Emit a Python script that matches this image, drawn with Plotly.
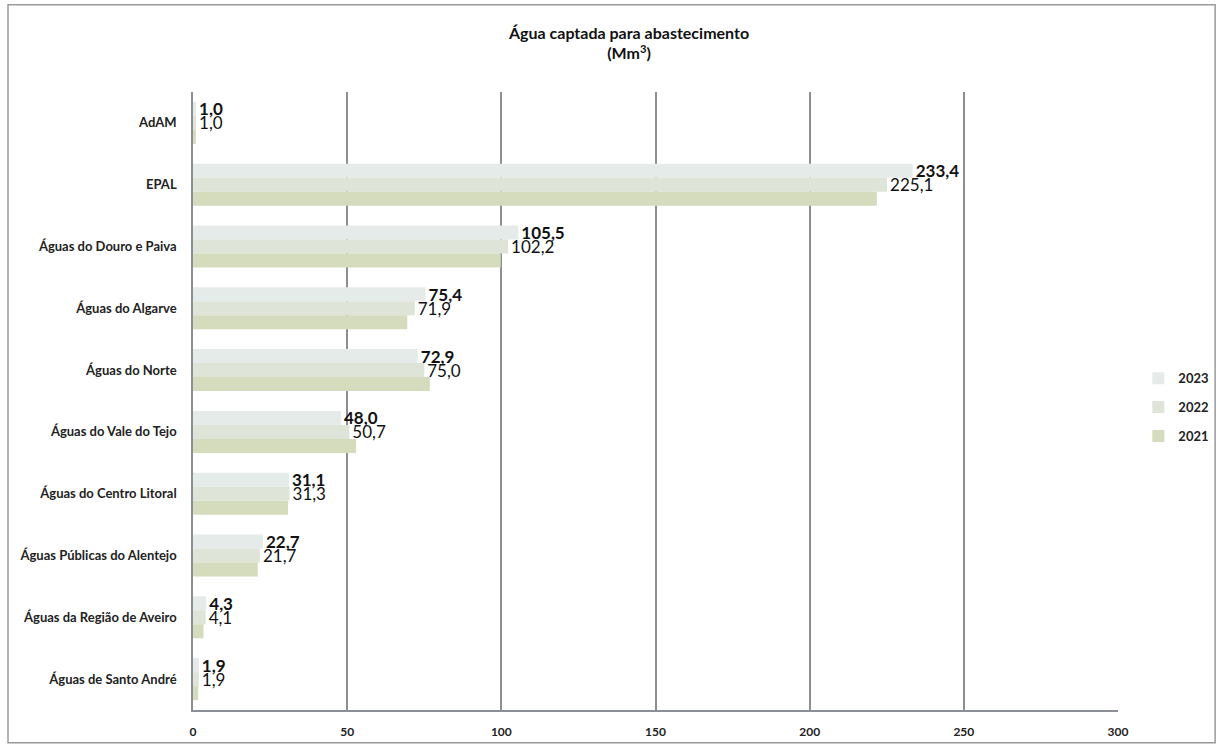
import plotly.graph_objects as go

categories = [
    "AdAM",
    "EPAL",
    "Águas do Douro e Paiva",
    "Águas do Algarve",
    "Águas do Norte",
    "Águas do Vale do Tejo",
    "Águas do Centro Litoral",
    "Águas Públicas do Alentejo",
    "Águas da Região de Aveiro",
    "Águas de Santo André",
]
years = ["2023", "2022", "2021"]
values_2023 = [1.0, 233.4, 105.5, 75.4, 72.9, 48.0, 31.1, 22.7, 4.3, 1.9]
values_2022 = [1.0, 225.1, 102.2, 71.9, 75.0, 50.7, 31.3, 21.7, 4.1, 1.9]
values_2021 = [0.9, 221.8, 99.8, 69.5, 76.8, 52.9, 30.8, 21.0, 3.4, 1.7]
x_ticks = [0, 50, 100, 150, 200, 250, 300]

colors = {"2023": "#e5ebe8", "2022": "#dfe4d8", "2021": "#d5dbbd"}
FONT = "Lato"

fig = go.Figure()
series = {"2023": values_2023, "2022": values_2022, "2021": values_2021}
for yr in years:
    vals = series[yr]
    show_text = yr in ("2023", "2022")
    fig.add_trace(go.Bar(
        name=yr,
        legendgroup=yr,
        y=categories,
        x=vals,
        orientation="h",
        marker=dict(color=colors[yr], line=dict(width=0)),
        text=[f"{v:.1f}".replace(".", ",") for v in vals] if show_text else None,
        textposition="outside" if show_text else "none",
        textfont=dict(family=FONT, size=17, color="#111111",
                      weight="bold" if yr == "2023" else "normal"),
        constraintext="none",
        cliponaxis=False,
    ))

# outer frame
fig.add_shape(type="rect", xref="paper", yref="paper",
              x0=-0.2, x1=1.105, y0=-0.053, y1=1.141,
              line=dict(color="#9a9a9a", width=1.5), layer="below")

fig.update_layout(
    width=1220, height=744,
    margin=dict(l=193, r=102, t=92, b=34, autoexpand=False),
    paper_bgcolor="white", plot_bgcolor="white",
    barmode="group", bargap=0.32, bargroupgap=0,
    font=dict(family=FONT, color="#222222"),
    title=dict(
        text="Água captada para abastecimento<br>(Mm<sup>3</sup>)",
        x=0.5156, xref="container", xanchor="center",
        y=0.948, yref="container", yanchor="top",
        font=dict(family=FONT, size=16, color="#111111", weight="bold"),
    ),
    xaxis=dict(
        range=[0, 300], tickvals=x_ticks, ticktext=[str(t) for t in x_ticks],
        showgrid=True, gridcolor="#8c8e96", gridwidth=1.5,
        showline=True, linecolor="#8c8e96", linewidth=1.5,
        zeroline=False, ticks="", ticklabelstandoff=10,
        tickfont=dict(family=FONT, size=12, color="#222222", weight="bold"),
    ),
    yaxis=dict(
        autorange="reversed", showgrid=False,
        showline=True, linecolor="#8c8e96", linewidth=1.5,
        ticks="", ticklabelstandoff=12,
        tickfont=dict(family=FONT, size=13, color="#222222", weight="bold"),
    ),
    legend=dict(
        x=1.022, y=0.49, xanchor="left", yanchor="middle",
        font=dict(family=FONT, size=13, color="#222222", weight="bold"),
        itemwidth=30, tracegroupgap=9,
    ),
)

fig.write_html("out.html")
